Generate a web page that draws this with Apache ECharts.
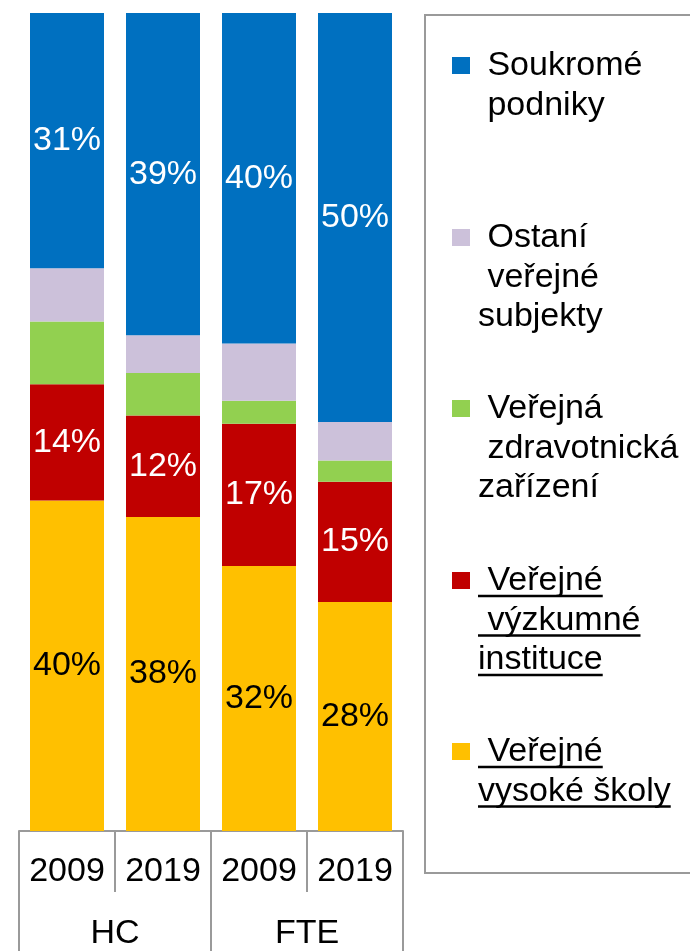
<!DOCTYPE html>
<html>
<head>
<meta charset="utf-8">
<script src="https://cdn.jsdelivr.net/npm/echarts@6/dist/echarts.min.js"></script>
<style>
  html, body { margin: 0; padding: 0; background: #fff; }
  #chart { width: 690px; height: 951px; }
</style>
</head>
<body>
<div id="chart"></div>
<script>
const categories = ['2009', '2019', '2009', '2019'];
const groups = ['HC', 'FTE'];

// shares in %, stacked bottom -> top
const vysokeSkoly = [40.4, 38.4, 32.4, 28.0];
const vyzkumneInstituce = [14.2, 12.4, 17.4, 14.7];
const zdravotnicka = [7.7, 5.2, 2.8, 2.6];
const ostatni = [6.5, 4.6, 7.0, 4.7];
const soukrome = [31.2, 39.4, 40.4, 50.0];

const legendLines = [
  [' Soukromé', ' podniky'],
  [' Ostaní', ' veřejné', 'subjekty'],
  [' Veřejná', ' zdravotnická', 'zařízení'],
  [' Veřejné', ' výzkumné', 'instituce'],
  [' Veřejné', 'vysoké školy']
];
const underlined = [false, false, false, true, true];

const FONT = '"Liberation Sans", Arial, sans-serif';
const colors = ['#0070C0', '#CCC1DA', '#92D050', '#C00000', '#FFC000'];

const chart = echarts.init(document.getElementById('chart'));

function bar(name, data, color, showLabel, labelColor) {
  return {
    name: name,
    type: 'bar',
    stack: 'all',
    barWidth: 74,
    data: data,
    itemStyle: { color: color },
    label: {
      show: showLabel,
      position: 'inside',
      color: labelColor,
      fontSize: 34,
      fontFamily: FONT,
      formatter: p => Math.round(p.value) + '%'
    }
  };
}

// legend drawn by hand (multi-line items with underlines)
const measure = document.createElement('canvas').getContext('2d');
measure.font = '34px ' + FONT;
const graphic = [{
  type: 'rect',
  shape: { x: 425, y: 15, width: 300, height: 858 },
  style: { fill: '#fff', stroke: '#9a9a9a', lineWidth: 2 },
  z: 0
}];
const entryY = [66, 238, 409, 581, 752];
const linePitch = 39.5;
legendLines.forEach((lines, i) => {
  graphic.push({
    type: 'rect',
    shape: { x: 452, y: entryY[i] - 9, width: 18, height: 17 },
    style: { fill: colors[i] },
    z: 1
  });
  lines.forEach((t, j) => {
    const y = entryY[i] + j * linePitch;
    graphic.push({
      type: 'text',
      x: 478, y: y,
      style: { text: t, fill: '#000', font: '34px ' + FONT, verticalAlign: 'middle', align: 'left' },
      z: 1
    });
    if (underlined[i]) {
      const w = measure.measureText(t).width;
      graphic.push({
        type: 'line',
        shape: { x1: 478, y1: y + 15, x2: 478 + w, y2: y + 15 },
        style: { stroke: '#000', lineWidth: 2.5 },
        z: 1
      });
    }
  });
});

const option = {
  animation: false,
  grid: { left: 19, right: 287, top: 13, bottom: 120, containLabel: false },
  xAxis: [{
    type: 'category',
    data: categories,
    position: 'bottom',
    axisLine: { show: true, lineStyle: { color: '#9a9a9a', width: 2 } },
    axisTick: { show: true, interval: 0, length: 61, lineStyle: { color: '#9a9a9a', width: 2 } },
    axisLabel: { interval: 0, margin: 24, color: '#000', fontSize: 34, fontFamily: FONT }
  }, {
    type: 'category',
    data: groups,
    position: 'bottom',
    axisLine: { show: false },
    axisTick: { show: true, interval: 0, length: 122, lineStyle: { color: '#9a9a9a', width: 2 } },
    axisLabel: { interval: 0, margin: 86, color: '#000', fontSize: 34, fontFamily: FONT }
  }],
  yAxis: { type: 'value', min: 0, max: 100, show: false },
  series: [
    bar(legendLines[4].join(' ').trim(), vysokeSkoly, colors[4], true, '#000'),
    bar(legendLines[3].join(' ').trim(), vyzkumneInstituce, colors[3], true, '#fff'),
    bar(legendLines[2].join(' ').trim(), zdravotnicka, colors[2], false, '#000'),
    bar(legendLines[1].join(' ').trim(), ostatni, colors[1], false, '#000'),
    bar(legendLines[0].join(' ').trim(), soukrome, colors[0], true, '#fff')
  ],
  graphic: graphic
};
chart.setOption(option);
</script>
</body>
</html>
